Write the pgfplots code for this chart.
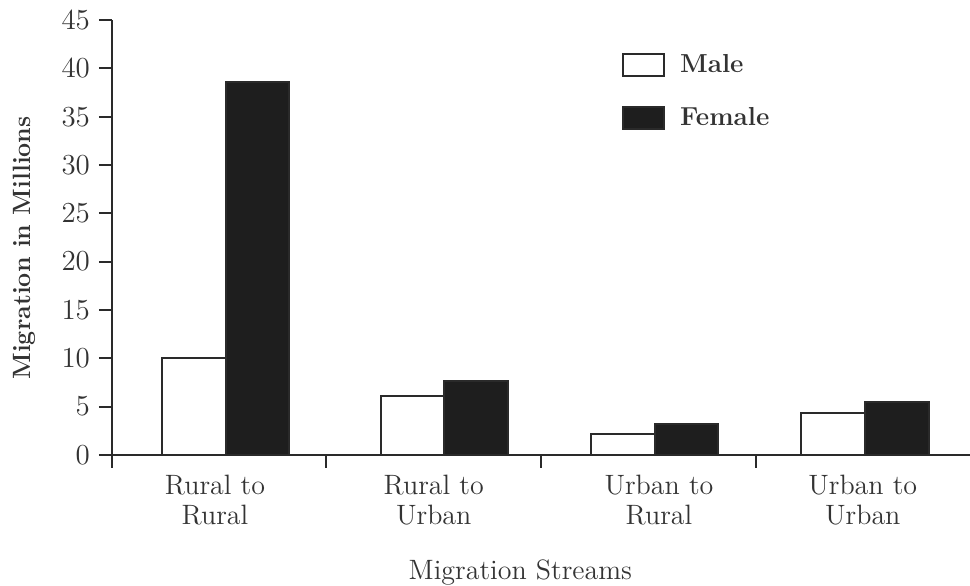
\documentclass[border=0pt]{standalone}
\usepackage{pgfplots}
\pgfplotsset{compat=1.18}
\usetikzlibrary{calc}
\definecolor{inkc}{HTML}{333333}
\definecolor{barc}{HTML}{1E1E1E}
\definecolor{linec}{HTML}{2A2A2A}
\begin{document}
\begin{tikzpicture}
\begin{axis}[
  name=ax,
  scale only axis,
  width=429pt, height=217.5pt,
  xmin=0, xmax=4, ymin=0, ymax=45,
  axis lines=left,
  axis line style={-, line width=1pt, color=linec},
  tick align=outside,
  major tick length=6.5pt,
  tick style={line width=1pt, color=linec},
  /pgf/number format/assume math mode=true,
  ytick={0,5,...,45},
  yticklabel style={font=\fontsize{14.5}{15}\selectfont, color=inkc, xshift=-1pt},
  xtick={0,1,2,3},
  xticklabels={,,,},
  extra x ticks={0.48,1.5,2.55,3.5},
  extra x tick labels={Rural to\\Rural, Rural to\\Urban, Urban to\\Rural, Urban to\\Urban},
  extra x tick style={tick style={draw=none}},
  xticklabel style={align=center, font=\fontsize{14}{15}\selectfont, color=inkc, anchor=north, yshift=0pt},
  xlabel={Migration Streams},
  every axis x label/.style={at={(axis description cs:0.476,-0.287)}, anchor=base, font=\fontsize{14}{16}\selectfont, color=inkc},
  ylabel={Migration in Millions},
  every axis y label/.style={at={(axis description cs:-0.1026,0.476)}, anchor=center, rotate=90, font=\fontsize{12.5}{14}\selectfont\bfseries, color=inkc},
  ybar,
  bar width=0.297,
  legend style={draw=none, fill=none, at={(rel axis cs:0.594,0.93)}, anchor=north west,
    font=\fontsize{13}{14}\selectfont\bfseries, text=inkc, row sep=12pt, inner sep=0pt,
    /tikz/every odd column/.append style={column sep=5.5pt}},
  legend cell align=left,
  clip=false,
]
\addplot[bar shift=-0.1485, draw=linec, line width=1pt, fill=white,
  legend image code/.code={\draw[draw=linec, line width=1pt, fill=white] (0pt,-5.5pt) rectangle (20.5pt,5.5pt);}]
  coordinates {(0.53,10) (1.55,6.1) (2.53,2.2) (3.51,4.3)};
\addlegendentry{Male}
\addplot[bar shift=0.1485, draw=linec, line width=1pt, fill=barc,
  legend image code/.code={\draw[draw=linec, line width=1pt, fill=barc] (0pt,-5.5pt) rectangle (20.5pt,5.5pt);}]
  coordinates {(0.53,38.6) (1.55,7.7) (2.53,3.2) (3.51,5.5)};
\addlegendentry{Female}
\coordinate (O) at (rel axis cs:0,0);
\coordinate (T) at (rel axis cs:1,1);
\end{axis}
\pgfresetboundingbox
\path ($(O)+(-56pt,-65.5pt)$) rectangle ($(T)+(0pt,10pt)$);
\end{tikzpicture}
\end{document}
